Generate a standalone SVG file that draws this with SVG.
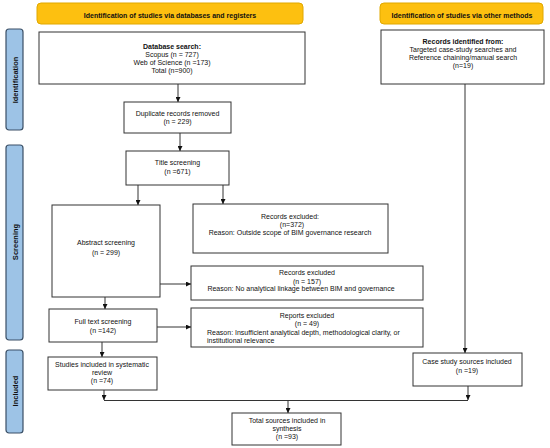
<svg xmlns="http://www.w3.org/2000/svg" width="550" height="448" viewBox="0 0 550 448">
<style>
text{font-family:"Liberation Sans",Arial,sans-serif;font-size:7px;fill:#111;text-anchor:middle}
.b{font-weight:bold}
.box{fill:#fff;stroke:#333;stroke-width:1}
.ban{fill:#FDC010;stroke:#E0A800;stroke-width:1}
.side{fill:#9DC3E6;stroke:#3A4F66;stroke-width:1.2}
.side-t{font-weight:bold;font-size:7.5px;fill:#111}
.c{fill:none;stroke:#333;stroke-width:1}
</style>
<defs>
<marker id="ah" viewBox="0 0 6 6" refX="6" refY="3" markerWidth="5" markerHeight="5" orient="auto" markerUnits="userSpaceOnUse">
<path d="M0,0 L6,3 L0,6 z" fill="#111"/>
</marker>
</defs>
<rect width="550" height="448" fill="#fff"/>

<g id="banner-left"><rect class="ban" x="37" y="3" width="266" height="21" rx="4"/><text class="b" x="170" y="17.5">Identification of studies via databases and registers</text></g>
<g id="banner-right"><rect class="ban" x="380" y="3" width="163" height="21" rx="4"/><text class="b" x="462" y="17.5">Identification of studies via other methods</text></g>

<g id="side-identification"><rect class="side" x="6" y="29" width="17" height="101" rx="3"/><text class="side-t" transform="translate(17.5,80) rotate(-90)">Identification</text></g>
<g id="side-screening"><rect class="side" x="6" y="145" width="17" height="195" rx="3"/><text class="side-t" transform="translate(17.5,242) rotate(-90)">Screening</text></g>
<g id="side-included"><rect class="side" x="6" y="350" width="17" height="83" rx="3"/><text class="side-t" transform="translate(17.5,391) rotate(-90)">Included</text></g>

<g id="database-search"><rect class="box" x="39" y="32" width="266" height="52"/>
<text class="b" x="172" y="49">Database search:</text>
<text x="172" y="57">Scopus (n = 727)</text>
<text x="172" y="65">Web of Science (n =173)</text>
<text x="172" y="73">Total (n=900)</text></g>

<g id="records-identified"><rect class="box" x="381" y="30" width="163" height="54"/>
<text class="b" x="463" y="44">Records identified from:</text>
<text x="463" y="52">Targeted case-study searches and</text>
<text x="463" y="60">Reference chaining/manual search</text>
<text x="463" y="68">(n=19)</text></g>

<g id="duplicates"><rect class="box" x="124" y="102" width="107" height="31"/>
<text x="177.5" y="116">Duplicate records removed</text>
<text x="177.5" y="124">(n = 229)</text></g>

<g id="title-screening"><rect class="box" x="126" y="151" width="103" height="34"/>
<text x="177.5" y="165">Title screening</text>
<text x="177.5" y="174">(n =671)</text></g>

<g id="abstract-screening"><rect class="box" x="52" y="205" width="108" height="92"/>
<text x="106" y="245">Abstract screening</text>
<text x="106" y="255">(n = 299)</text></g>

<g id="excluded-372"><rect class="box" x="193" y="204" width="195" height="49"/>
<text x="290" y="219">Records excluded:</text>
<text x="292" y="227">(n=372)</text>
<text x="290" y="235">Reason: Outside scope of BIM governance research</text></g>

<g id="excluded-157"><rect class="box" x="191" y="266" width="232" height="34"/>
<text x="307" y="275">Records excluded</text>
<text x="307" y="284">(n = 157)</text>
<text x="301" y="291">Reason: No analytical linkage between BIM and governance</text></g>

<g id="full-text"><rect class="box" x="49" y="309" width="108" height="33"/>
<text x="103" y="324">Full text screening</text>
<text x="103" y="333">(n =142)</text></g>

<g id="reports-excluded"><rect class="box" x="191" y="308" width="232" height="39"/>
<text x="307" y="318">Reports excluded</text>
<text x="307" y="326">(n = 49)</text>
<text x="207" y="335" style="text-anchor:start">Reason: Insufficient analytical depth, methodological clarity, or</text>
<text x="207" y="343" style="text-anchor:start">institutional relevance</text></g>

<g id="studies-included"><rect class="box" x="48" y="357" width="109" height="33"/>
<text x="102" y="367">Studies included in systematic</text>
<text x="102" y="375">review</text>
<text x="102" y="383">(n =74)</text></g>

<g id="case-study"><rect class="box" x="413" y="353" width="109" height="33"/>
<text x="467" y="364">Case study sources included</text>
<text x="467" y="373">(n =19)</text></g>

<g id="total"><rect class="box" x="232" y="413" width="109" height="32"/>
<text x="287" y="423">Total sources included in</text>
<text x="287" y="431">synthesis</text>
<text x="287" y="439">(n =93)</text></g>

<g id="connectors">
<line class="c" x1="178" y1="84" x2="178" y2="102" marker-end="url(#ah)"/>
<line class="c" x1="180" y1="133" x2="180" y2="151" marker-end="url(#ah)"/>
<line class="c" x1="138" y1="185" x2="138" y2="205" marker-end="url(#ah)"/>
<line class="c" x1="223" y1="185" x2="223" y2="204" marker-end="url(#ah)"/>
<line class="c" x1="160" y1="284" x2="191" y2="284" marker-end="url(#ah)"/>
<line class="c" x1="105" y1="297" x2="105" y2="309" marker-end="url(#ah)"/>
<line class="c" x1="157" y1="327" x2="191" y2="327" marker-end="url(#ah)"/>
<line class="c" x1="102" y1="342" x2="102" y2="357" marker-end="url(#ah)"/>
<line class="c" x1="465" y1="84" x2="465" y2="353" marker-end="url(#ah)"/>
<line class="c" x1="104" y1="390" x2="104" y2="400" marker-end="url(#ah)"/>
<line class="c" x1="468" y1="386" x2="468" y2="400" marker-end="url(#ah)"/>
<line class="c" x1="104" y1="400.5" x2="468" y2="400.5"/>
<line class="c" x1="288" y1="400.5" x2="288" y2="413" marker-end="url(#ah)"/>
</g>
</svg>
